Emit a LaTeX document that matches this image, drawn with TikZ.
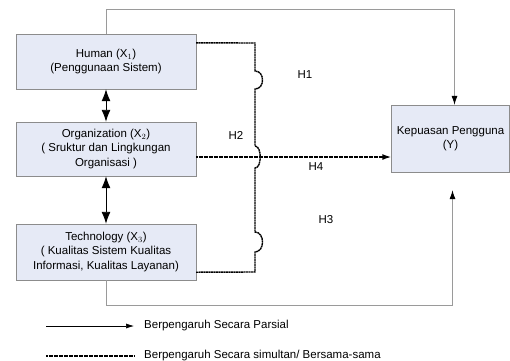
\documentclass[tikz,border=0pt]{standalone}
\usepackage{fontspec}
\setmainfont{Liberation Sans}
\usetikzlibrary{arrows.meta}

\definecolor{boxfill}{HTML}{E6EAF6}
\definecolor{boxline}{HTML}{8C8C8C}
\definecolor{partline}{HTML}{9A9A9A}

\begin{document}
\begin{tikzpicture}[x=1pt, y=-1pt,
    every node/.style = {font=\fontsize{11.5}{14.5}\selectfont},
    var/.style = {draw=boxline, fill=boxfill, align=center, inner sep=1pt},
    partial/.style = {draw=partline, line width=0.8pt, -{Latex[length=9pt,width=6pt,color=black]}},
    simul/.style = {draw=black, line width=1.4pt, dash pattern=on 2pt off 0.5pt},
    both/.style = {line width=0.9pt, {Latex[length=12pt,width=9pt]}-{Latex[length=12pt,width=9pt]}},
    lbl/.style = {inner sep=0pt}]
    \useasboundingbox (0,0) rectangle (510,360);

    \node[var, minimum width=180pt, minimum height=55pt] (X1) at (106,61.5) {Human (X$_1$)\\(Penggunaan Sistem)};
    \node[var, minimum width=180pt, minimum height=54pt] (X2) at (106,149) {Organization (X$_2$)\\( Sruktur dan Lingkungan\\Organisasi )};
    \node[var, minimum width=180pt, minimum height=56pt] (X3) at (106,252) {Technology (X$_3$)\\( Kualitas Sistem Kualitas\\Informasi, Kualitas Layanan)};
    \node[var, minimum width=118pt, minimum height=67pt] (Y) at (450.5,138.5) {Kepuasan Pengguna\\(Y)};

    \node[lbl] (h1) at (305,75) {H1};
    \node[lbl] (h2) at (236,135) {H2};
    \node[lbl] (h4) at (316,167) {H4};
    \node[lbl] (h3) at (326,220) {H3};

    % interaksi antar variabel
    \draw[both] (X1) -- (X2);
    \draw[both] (X2) -- (X3);

    % pengaruh parsial
    \draw[partial] (X1.north) -- ++(0,-24) -| ([xshift=4pt]Y.north);
    \draw[partial] (X3.south) -- ++(0,25) -| ([xshift=2pt,yshift=-18pt]Y.south);

    % pengaruh simultan
    \coordinate (j1) at (255,43);
    \coordinate (j3) at (255,272);
    \draw[simul] ([yshift=-9pt]X1.north east) -- (j1) -- (255,71)
        .. controls (265,71) and (265,89) .. (255,89) -- (255,146)
        .. controls (262,146) and (262,168) .. (255,168) -- (255,232)
        .. controls (265,232) and (265,252) .. (255,252) -- (j3)
        -- ([yshift=8pt]X3.south east);
    \draw[simul, -{Latex[length=9pt,width=6pt]}] ([yshift=-8pt]X2.east) -- (Y.west |- 0,157);

    % keterangan
    \coordinate (p0) at (46,326);
    \coordinate (s0) at (46,356);
    \node[lbl, anchor=west] (lp) at (144,326) {Berpengaruh Secara Parsial};
    \node[lbl, anchor=west] (ls) at (144,356) {Berpengaruh Secara simultan/ Bersama-sama};
    \draw[line width=0.6pt, -{Latex[length=8pt,width=5pt]}] (p0) -- ([xshift=-10pt]lp.west);
    \draw[simul, line width=1.1pt] (s0) -- ([xshift=-10pt]ls.west);
\end{tikzpicture}
\end{document}
